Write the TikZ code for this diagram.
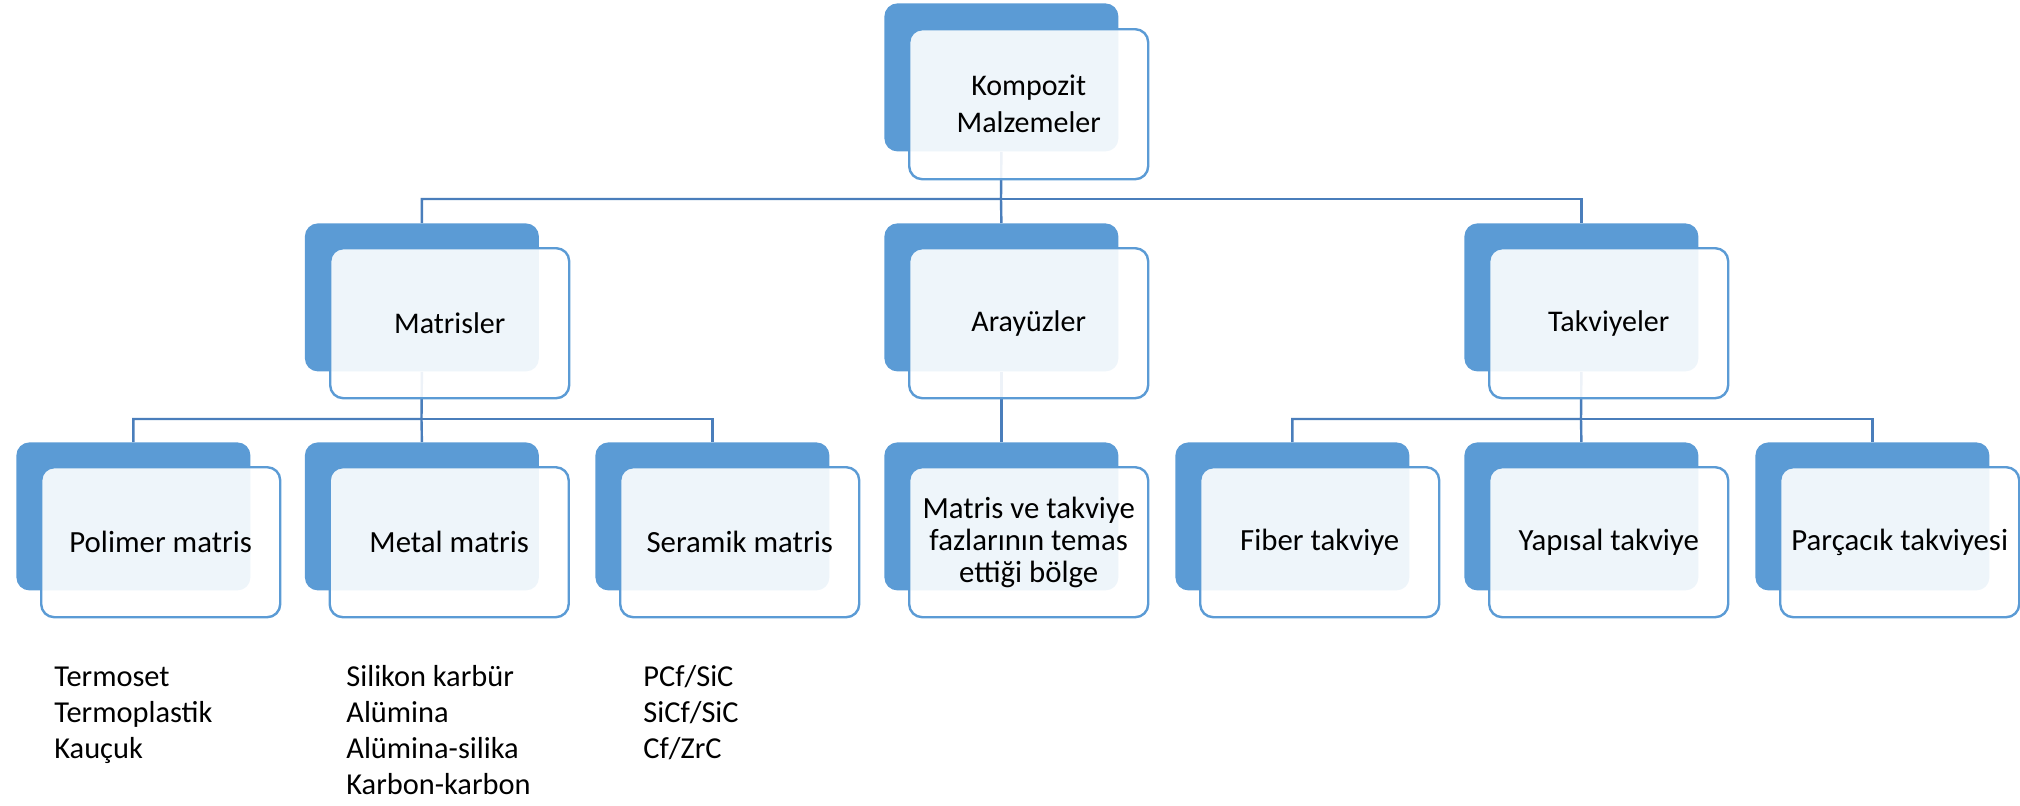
\documentclass[tikz,border=0pt]{standalone}
\usepackage{fontspec}
\setmainfont{Carlito}
\usepackage{tikz}
\usepackage{xcolor}
\usetikzlibrary{shapes, positioning}

\definecolor{boxblue}{HTML}{5B9BD5}
\definecolor{linkblue}{HTML}{4A7EBB}
\pgfdeclarelayer{bg}
\pgfsetlayers{bg,main}

\tikzset{
    backbox/.style={rectangle, rounded corners=6.5pt, fill=boxblue, inner sep=0pt, anchor=north west, minimum width=117pt, minimum height=74pt},
    frontbox/.style={rectangle, rounded corners=6.5pt, draw=boxblue, line width=1.2pt, fill=white, fill opacity=0.9, text opacity=1, inner sep=2pt, anchor=north west, align=center, minimum width=119.5pt, minimum height=75pt, font=\fontsize{15pt}{18.5pt}\selectfont},
    leaffront/.style={frontbox, font=\fontsize{15.4pt}{16pt}\selectfont},
    link/.style={draw=linkblue, line width=1.2pt},
    listtext/.style={anchor=base west, align=left, inner sep=0pt, font=\fontsize{15.2pt}{18pt}\selectfont},
}

\begin{document}
\begin{tikzpicture}[x=0.5pt, y=-0.5pt]
        \useasboundingbox (0, 0) rectangle (2020, 805);

        \node[backbox] (kompB) at (884, 3) {};
        \node[frontbox] (komp) at (908, 28) {Kompozit\\Malzemeler};

        \node[backbox] (matB) at (304.5, 223) {};
        \node[frontbox] (mat) at (329, 247) {Matrisler};
        \node[backbox] (araB) at (884, 223) {};
        \node[frontbox] (ara) at (908, 247) {Arayüzler};
        \node[backbox] (takB) at (1464, 223) {};
        \node[frontbox] (tak) at (1488, 247) {Takviyeler};

        \node[backbox] (polB) at (16, 442) {};
        \node[leaffront] (pol) at (40, 466) {Polimer matris};
        \node[backbox] (metB) at (304.5, 442) {};
        \node[leaffront] (met) at (328.5, 466) {Metal matris};
        \node[backbox] (serB) at (595, 442) {};
        \node[leaffront] (ser) at (619, 466) {Seramik matris};
        \node[backbox] (temB) at (884, 442) {};
        \node[leaffront] (tem) at (908, 466) {Matris ve takviye\\fazlarının temas\\ettiği bölge};
        \node[backbox] (fibB) at (1175, 442) {};
        \node[leaffront] (fib) at (1199, 466) {Fiber takviye};
        \node[backbox] (yapB) at (1464, 442) {};
        \node[leaffront] (yap) at (1488, 466) {Yapısal takviye};
        \node[backbox] (parB) at (1755, 442) {};
        \node[leaffront] (par) at (1779, 466) {Parçacık takviyesi};

        % lists sit on the baseline of their last line
        \node[listtext] (polL) at (54, 758) {Termoset\\Termoplastik\\Kauçuk};
        \node[listtext] (metL) at (346, 794) {Silikon karbür\\Alümina\\Alümina-silika\\Karbon-karbon};
        \node[listtext] (serL) at (643, 758) {PCf/SiC\\SiCf/SiC\\Cf/ZrC};

        \coordinate (bar0) at (1001, 199);
        \coordinate (bar1) at (421.5, 419);
        \coordinate (bar2) at (1581, 419);

        \begin{pgfonlayer}{bg}
        \draw[link] (kompB.south) -- (bar0) -| (matB.north);
        \draw[link] (bar0) -| (takB.north);
        \draw[link] (bar0) -- (araB.north);
        \draw[link] (matB.south) -- (bar1) -| (polB.north);
        \draw[link] (bar1) -| (serB.north);
        \draw[link] (bar1) -- (metB.north);
        \draw[link] (araB.south) -- (temB.north);
        \draw[link] (takB.south) -- (bar2) -| (fibB.north);
        \draw[link] (bar2) -| (parB.north);
        \draw[link] (bar2) -- (yapB.north);
        \end{pgfonlayer}
    \end{tikzpicture}
\end{document}
